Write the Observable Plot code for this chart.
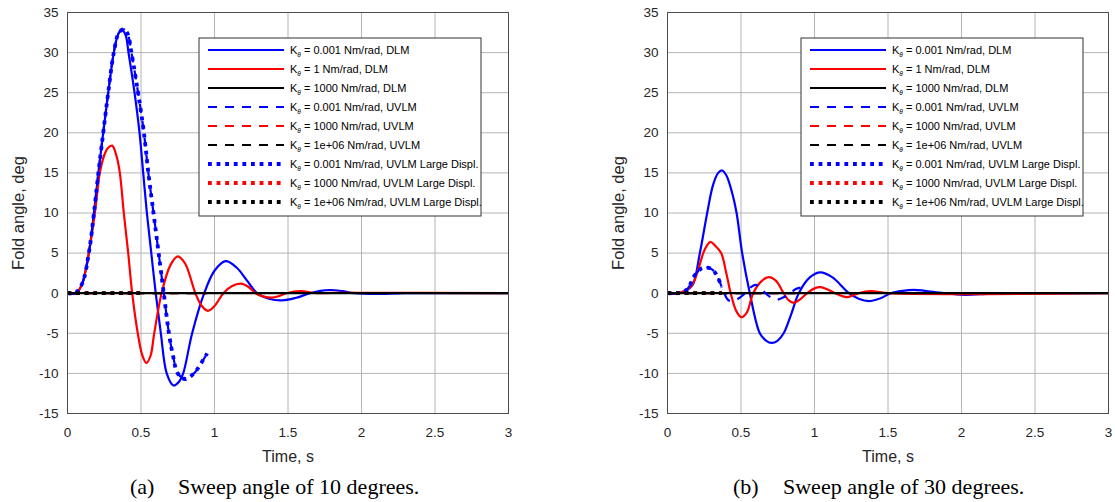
<!DOCTYPE html>
<html><head><meta charset="utf-8">
<script src="https://cdn.jsdelivr.net/npm/d3@7"></script>
<script src="https://cdn.jsdelivr.net/npm/@observablehq/plot@0.6"></script>
<style>
body{margin:0;background:#fff;}
#wrap{position:relative;width:1115px;height:502px;overflow:hidden;background:#fff;}
.panel{position:absolute;top:0;overflow:visible;}
.cap{position:absolute;top:474px;font-family:"Liberation Serif","Times New Roman",serif;font-size:22px;line-height:26px;white-space:pre;color:#000;}
</style></head><body><div id="wrap"></div>
<script>
// ---- axes / text ----
const xTicks = [0, 0.5, 1, 1.5, 2, 2.5, 3];
const yTicks = [-15, -10, -5, 0, 5, 10, 15, 20, 25, 30, 35];
const xLabel = "Time, s";
const yLabel = "Fold angle, deg";
const legendKeys = ["dlm0001","dlm1","dlm1000","uvlm0001","uvlm1000","uvlm1e6","ld0001","ld1000","ld1e6"];
const legendTexts = [" = 0.001 Nm/rad, DLM"," = 1 Nm/rad, DLM"," = 1000 Nm/rad, DLM",
  " = 0.001 Nm/rad, UVLM"," = 1000 Nm/rad, UVLM"," = 1e+06 Nm/rad, UVLM",
  " = 0.001 Nm/rad, UVLM Large Displ."," = 1000 Nm/rad, UVLM Large Displ."," = 1e+06 Nm/rad, UVLM Large Displ."];
const captionTags = ["(a)", "(b)"];
const captionTexts = ["Sweep angle of 10 degrees.", "Sweep angle of 30 degrees."];

// ---- panel (a): sweep 10 deg ----
const aDlm0001T = [0,0.06,0.1,0.145,0.18,0.21,0.243,0.277,0.315,0.345,0.37,0.395,0.415,0.456,0.49,0.515,0.54,0.57,0.6,0.635,0.675,0.72,0.76,0.787,0.848,0.93,1.0,1.075,1.15,1.22,1.29,1.37,1.46,1.55,1.65,1.72,1.79,1.87,1.95,2.1,2.3,3.0];
const aDlm0001V = [0,0,1.2,5,10,15,20,25,30,32.3,32.8,32.2,30,25,20,15,10,5,0,-5,-10,-11.5,-11,-10,-5,0,2.8,4.0,3.2,1.6,0,-0.7,-0.9,-0.6,0,0.3,0.4,0.25,0,-0.1,0,0];
const aDlm1T = [0,0.06,0.1,0.145,0.186,0.22,0.25,0.275,0.304,0.335,0.356,0.383,0.413,0.44,0.478,0.51,0.537,0.565,0.59,0.64,0.7,0.75,0.8,0.87,0.91,0.955,1.0,1.06,1.12,1.18,1.23,1.28,1.33,1.39,1.44,1.49,1.585,1.7,1.8,3.0];
const aDlm1V = [0,0,1.2,5,10,15,17.2,18.1,18.4,17,15,10,5,0,-5,-7.8,-8.7,-7.8,-5,0,3.5,4.6,3.7,0,-1.5,-2.2,-1.6,0,0.9,1.2,0.8,0,-0.4,-0.55,-0.35,0,0.25,0,0.05,0];
const aDlm1000T = [0, 3];
const aDlm1000V = [0, 0];
const aUvlm0001T = [0,0.05,0.1,0.145,0.18,0.21,0.243,0.277,0.315,0.35,0.383,0.41,0.435,0.48,0.52,0.55,0.585,0.62,0.655,0.69,0.72,0.75,0.8,0.86,0.9,0.95];
const aUvlm0001V = [0,0,1.2,5,10,15,20,25,30,32.5,32.9,32.3,30,25,20,15,10,5,0,-5,-8,-10,-10.7,-10,-9,-7.5];
const aUvlmZeroT = [0, 0.95];
const aUvlmZeroV = [0, 0];
const aLd0001T = aUvlm0001T;
const aLd0001V = aUvlm0001V;
const aLdZeroT = [0, 0.51];
const aLdZeroV = [0, 0];

// ---- panel (b): sweep 30 deg ----
const bDlm0001T = [0,0.07,0.12,0.17,0.22,0.27,0.31,0.345,0.372,0.4,0.44,0.47,0.508,0.56,0.628,0.67,0.708,0.75,0.79,0.84,0.893,0.97,1.04,1.12,1.235,1.3,1.37,1.44,1.52,1.6,1.675,1.75,1.88,2.02,2.2,2.4,3.0];
const bDlm0001V = [0,0,0.3,1.0,5,10,13.5,15,15.3,14.7,12.5,10,5,0,-5,-5.9,-6.2,-5.9,-5,-2.7,0,2.0,2.6,2.0,0,-0.7,-1.0,-0.7,0,0.3,0.42,0.3,0,-0.2,-0.05,0,0];
const bDlm1T = [0,0.07,0.12,0.17,0.21,0.243,0.27,0.293,0.32,0.365,0.4,0.43,0.47,0.503,0.54,0.583,0.64,0.69,0.74,0.79,0.825,0.86,0.9,0.95,1.0,1.04,1.09,1.14,1.22,1.3,1.38,1.5,3.0];
const bDlm1V = [0,0,0.3,1.1,3.0,5,6.0,6.4,6.0,5,2.5,0,-2.3,-3.0,-2.4,0,1.5,2.0,1.5,0,-0.9,-1.2,-0.8,0,0.6,0.75,0.45,0,-0.5,0,0.25,0,0];
const bDlm1000T = [0, 3];
const bDlm1000V = [0, 0];
const bUvlm0001T = [0,0.07,0.12,0.145,0.177,0.224,0.27,0.3,0.33,0.36,0.385,0.41,0.43,0.47,0.53,0.57,0.6,0.63,0.667,0.71,0.746,0.79,0.837,0.87,0.905];
const bUvlm0001V = [0,0,0.3,0.75,2.0,3.0,3.2,3.0,2.4,1.2,0,-0.8,-1.0,-0.8,0,0.8,1.05,0.8,0,-0.6,-0.8,-0.5,0,0.5,0.7];
const bUvlmZeroT = [0, 0.905];
const bUvlmZeroV = [0, 0];
const bLd0001T = [0,0.07,0.12,0.145,0.177,0.224,0.27,0.3,0.33,0.36,0.37];
const bLd0001V = [0,0,0.3,0.75,2.0,3.0,3.2,3.0,2.4,1.2,0.7];
const bLdZeroT = [0, 0.37];
const bLdZeroV = [0, 0];

// ---- styles (kept apart from data) ----
const styles = {
  dlm0001:  {stroke:"#0000ff", strokeWidth:2.2, dash:null},
  dlm1:     {stroke:"#ff0000", strokeWidth:2.2, dash:null},
  dlm1000:  {stroke:"#000000", strokeWidth:2.2, dash:null},
  uvlm0001: {stroke:"#0000ff", strokeWidth:2.2, dash:"9,8"},
  uvlm1000: {stroke:"#ff0000", strokeWidth:2.2, dash:"9,8"},
  uvlm1e6:  {stroke:"#000000", strokeWidth:2.2, dash:"9,8"},
  ld0001:   {stroke:"#0000ff", strokeWidth:3.8, dash:"3.8,4.8"},
  ld1000:   {stroke:"#ff0000", strokeWidth:3.8, dash:"3.8,4.8"},
  ld1e6:    {stroke:"#000000", strokeWidth:3.8, dash:"3.8,4.8"}
};

const panels = [
  {series: {dlm0001:[aDlm0001T,aDlm0001V], dlm1:[aDlm1T,aDlm1V], dlm1000:[aDlm1000T,aDlm1000V],
            uvlm0001:[aUvlm0001T,aUvlm0001V], uvlm1000:[aUvlmZeroT,aUvlmZeroV], uvlm1e6:[aUvlmZeroT,aUvlmZeroV],
            ld0001:[aLd0001T,aLd0001V], ld1000:[aLdZeroT,aLdZeroV], ld1e6:[aLdZeroT,aLdZeroV]},
   left:0, width:557, marginRight:49, legendDx:132, capLeft:130, capGap:48},
  {series: {dlm0001:[bDlm0001T,bDlm0001V], dlm1:[bDlm1T,bDlm1V], dlm1000:[bDlm1000T,bDlm1000V],
            uvlm0001:[bUvlm0001T,bUvlm0001V], uvlm1000:[bUvlmZeroT,bUvlmZeroV], uvlm1e6:[bUvlmZeroT,bUvlmZeroV],
            ld0001:[bLd0001T,bLd0001V], ld1000:[bLdZeroT,bLdZeroV], ld1e6:[bLdZeroT,bLdZeroV]},
   left:600, width:515, marginRight:7, legendDx:134, capLeft:733, capGap:50}
];
// draw order: red zero-lines first so black ones cover them
const drawOrder = ["dlm0001","dlm1","uvlm1000","ld1000","dlm1000","uvlm0001","uvlm1e6","ld0001","ld1e6"];

const FONT = '"Liberation Sans", Arial, Helvetica, sans-serif';
const gridColor = "#b4b4b4";
const textColor = "#262626";
const wrap = document.getElementById("wrap");
const ML = 67, MT = 12, MB = 47, H = 460;

panels.forEach((p, pi) => {
  const lineMarks = drawOrder.map(k => {
    const [ts, vs] = p.series[k];
    const rows = ts.map((t, i) => ({t, v: vs[i]}));
    const s = styles[k];
    return Plot.line(rows, {x:"t", y:"v", stroke:s.stroke, strokeWidth:s.strokeWidth,
      strokeDasharray:s.dash || undefined, strokeLinecap:"butt", curve:"catmull-rom"});
  });
  const chart = Plot.plot({
    width:p.width, height:H, marginLeft:ML, marginRight:p.marginRight, marginTop:MT, marginBottom:MB,
    x:{domain:[0,3], label:null, axis:null}, y:{domain:[-15,35], label:null, axis:null},
    style:{fontFamily:FONT, fontSize:"13.5px", color:textColor, background:"transparent", overflow:"visible"},
    marks:[
      Plot.gridX(xTicks, {stroke:gridColor, strokeOpacity:1}),
      Plot.gridY(yTicks, {stroke:gridColor, strokeOpacity:1}),
      ...lineMarks,
      Plot.frame({stroke:"#4d4d4d", strokeWidth:1}),
      // tick labels through the scales
      Plot.text(xTicks, {x:d=>d, text:d=>String(d), frameAnchor:"bottom", textAnchor:"middle", lineAnchor:"middle", dy:19, fontSize:13.5, fill:textColor}),
      Plot.text(yTicks, {y:d=>d, text:d=>String(d), frameAnchor:"left", textAnchor:"end", lineAnchor:"middle", dx:-9, fontSize:13.5, fill:textColor}),
      Plot.text([xLabel], {text:d=>d, frameAnchor:"bottom", textAnchor:"middle", lineAnchor:"middle", dy:43, fontSize:16, fill:textColor}),
      Plot.text([yLabel], {text:d=>d, frameAnchor:"left", textAnchor:"middle", lineAnchor:"middle", rotate:-90, dx:-49, dy:0, fontSize:16.5, fill:textColor})
    ]
  });
  chart.classList.add("panel");
  chart.style.left = p.left + "px";
  wrap.appendChild(chart);

  // legend box drawn inside the plot's svg, relative to the frame
  const g = d3.select(chart).append("g").attr("transform", `translate(${ML + p.legendDx},${MT + 26})`)
    .attr("text-anchor", "start");
  g.append("rect").attr("width", 282).attr("height", 178).attr("fill", "#fff")
    .attr("stroke", "#333").attr("stroke-width", 1);
  legendKeys.forEach((k, i) => {
    const s = styles[k];
    const y = 12 + i * 19;
    g.append("line").attr("x1", 9).attr("x2", 85).attr("y1", y).attr("y2", y)
      .attr("stroke", s.stroke).attr("stroke-width", s.strokeWidth)
      .attr("stroke-dasharray", s.dash || null);
    const t = g.append("text").attr("x", 91).attr("y", y).attr("dy", "0.36em").attr("text-anchor", "start")
      .attr("font-family", FONT).attr("font-size", 11).attr("fill", "#000");
    t.append("tspan").text("K");
    t.append("tspan").attr("dy", 3).attr("font-size", 6.5).attr("font-style", "italic").text("θ");
    t.append("tspan").attr("dy", -3).text(legendTexts[i]);
  });

  // caption
  const cap1 = document.createElement("div");
  cap1.className = "cap"; cap1.style.left = p.capLeft + "px"; cap1.textContent = captionTags[pi];
  wrap.appendChild(cap1);
  const cap2 = document.createElement("div");
  cap2.className = "cap"; cap2.style.left = (p.capLeft + p.capGap) + "px"; cap2.textContent = captionTexts[pi];
  wrap.appendChild(cap2);
});
</script>
</body></html>
